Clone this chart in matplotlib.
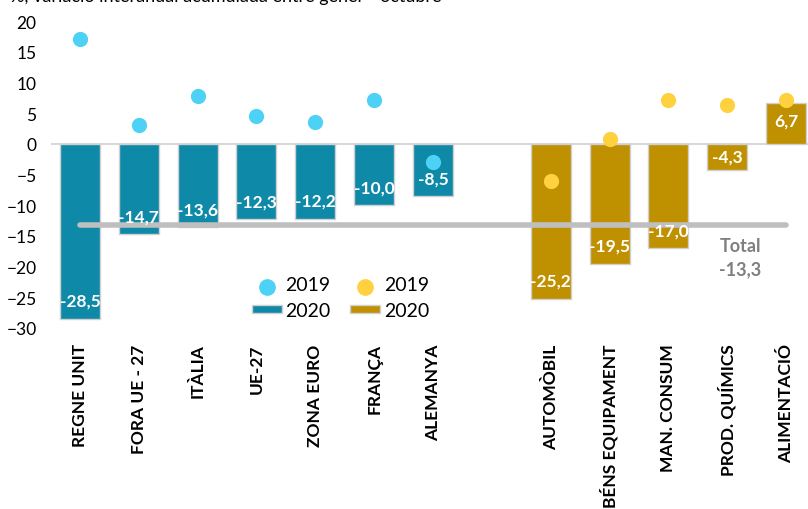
#!/usr/bin/env python3
"""
Exports 2020 vs 2019: cumulative year-on-year change, January - October.

Bars are 2020 (destinations in teal, product groups in gold), dots are 2019.
A grey line marks the total (-13,3).
"""
import numpy as np
import matplotlib.pyplot as plt

plt.rcParams["font.family"] = ["Lato", "DejaVu Sans"]

destinations = ["REGNE UNIT", "FORA UE - 27", "ITÀLIA", "UE-27", "ZONA EURO", "FRANÇA", "ALEMANYA"]
dest_2020 = [-28.5, -14.7, -13.6, -12.3, -12.2, -10.0, -8.5]
dest_2019 = [17.0, 3.1, 7.8, 4.6, 3.6, 7.2, -2.9]

products = ["AUTOMÒBIL", "BÉNS EQUIPAMENT", "MAN. CONSUM", "PROD. QUÍMICS", "ALIMENTACIÓ"]
prod_2020 = [-25.2, -19.5, -17.0, -4.3, 6.7]
prod_2019 = [-6.0, 0.8, 7.2, 6.4, 7.2]

total_2020 = -13.3

TEAL = "#0E89A7"
GOLD = "#BF9000"
LIGHT_BLUE = "#4DD2F5"
YELLOW = "#FFD13F"


def fmt(v):
    return f"{v:.1f}".replace(".", ",")


def main():
    fig = plt.figure(figsize=(8.08, 5.10), dpi=100)
    ax = fig.add_axes([50.5 / 808, 1 - 329 / 510, 765 / 808, 307 / 510])

    # one empty slot between the two groups
    x_dest = np.arange(len(destinations))
    x_prod = np.arange(len(products)) + len(destinations) + 1
    bar_w = 0.68

    ax.axhline(0, color="#D9D9D9", lw=1.5, zorder=1)

    b1 = ax.bar(x_dest, dest_2020, width=bar_w, color=TEAL, edgecolor="#D0D0D0", lw=1, zorder=2)
    b2 = ax.bar(x_prod, prod_2020, width=bar_w, color=GOLD, edgecolor="#D0D0D0", lw=1, zorder=2)

    ax.plot([x_dest[0], x_prod[-1]], [total_2020, total_2020], color="#BFBFBF", lw=4,
            solid_capstyle="round", zorder=3)

    d1 = ax.scatter(x_dest, dest_2019, s=120, color=LIGHT_BLUE, zorder=4, linewidths=0)
    d2 = ax.scatter(x_prod, prod_2019, s=120, color=YELLOW, zorder=4, linewidths=0)

    # value labels inside bar ends
    for xs, vals in ((x_dest, dest_2020), (x_prod, prod_2020)):
        for x, v in zip(xs, vals):
            off = min(abs(v) / 2, 2.9)
            y = v + off if v < 0 else v - off
            ax.text(x, y, fmt(v), ha="center", va="center", color="white",
                    fontsize=12.5, fontweight="bold", zorder=5)

    ax.text(11.22, -16.6, "Total", color="#7F7F7F", fontsize=13, fontweight="bold",
            ha="center", va="center")
    ax.text(11.22, -20.4, fmt(total_2020), color="#7F7F7F", fontsize=13, fontweight="bold",
            ha="center", va="center")

    ax.set_xlim(-0.5, x_prod[-1] + 0.5)
    ax.set_ylim(-30, 20)
    ax.set_yticks(np.arange(-30, 21, 5))
    ax.tick_params(axis="y", length=0, labelsize=12.5, pad=10)
    ax.set_xticks(list(x_dest) + list(x_prod))
    ax.set_xticklabels(destinations + products, rotation=90, fontsize=12.5,
                       fontweight="bold", va="top")
    ax.tick_params(axis="x", length=0, pad=11)
    for s in ax.spines.values():
        s.set_visible(False)

    ax.legend([d1, b1, d2, b2], ["2019", "2020", "2019", "2020"], ncol=2,
              loc="upper left", bbox_to_anchor=(0.24, 0.225), frameon=False,
              fontsize=14, handlelength=1.55, handleheight=0.3, columnspacing=1.0,
              labelspacing=0.45, handletextpad=0.2, markerscale=1.1)

    fig.text(0.012, 1.006, "%, variació interanual acumulada entre gener - octubre",
             fontsize=13, ha="left", va="center")

    fig.savefig("out.png", dpi=100)
    plt.close(fig)


if __name__ == "__main__":
    main()
